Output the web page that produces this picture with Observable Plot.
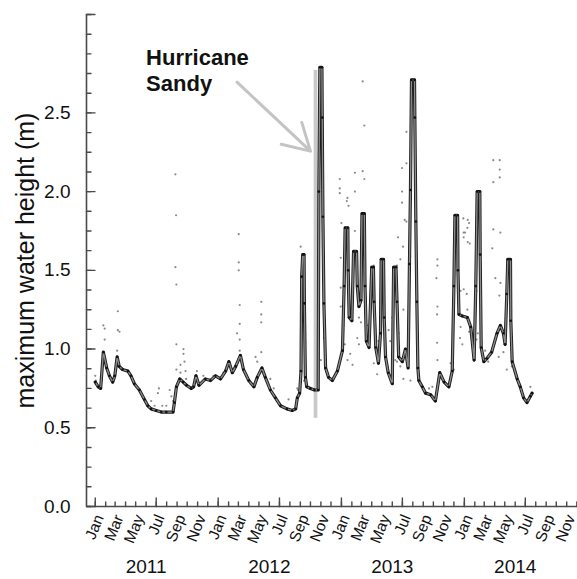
<!DOCTYPE html>
<html><head><meta charset="utf-8">
<script src="https://cdn.jsdelivr.net/npm/d3@7"></script>
<script src="https://cdn.jsdelivr.net/npm/@observablehq/plot@0.6"></script>
<style>body{margin:0;background:#fff} svg{display:block}</style>
</head><body><div id="chart"></div>
<script>
// ---- data ----
const lineDates = ["2011-01-01","2011-01-10","2011-01-17","2011-01-25","2011-02-04","2011-02-12","2011-02-22","2011-02-28","2011-03-07","2011-03-13","2011-03-23","2011-04-08","2011-04-17","2011-04-27","2011-05-12","2011-05-27","2011-06-06","2011-06-16","2011-07-01","2011-07-16","2011-07-31","2011-08-20","2011-08-24","2011-08-30","2011-09-09","2011-09-19","2011-09-29","2011-10-13","2011-10-20","2011-10-27","2011-11-05","2011-11-24","2011-12-09","2011-12-24","2012-01-08","2012-01-23","2012-02-02","2012-02-12","2012-02-22","2012-03-07","2012-03-16","2012-04-01","2012-04-16","2012-04-26","2012-05-10","2012-05-20","2012-06-04","2012-06-19","2012-07-04","2012-07-23","2012-08-08","2012-08-18","2012-08-23","2012-08-30","2012-09-03","2012-09-05","2012-09-08","2012-09-12","2012-09-13","2012-09-16","2012-09-20","2012-10-01","2012-10-13","2012-10-24","2012-10-26","2012-10-29","2012-11-04","2012-11-05","2012-11-07","2012-11-10","2012-11-15","2012-11-24","2012-12-05","2012-12-20","2013-01-04","2013-01-09","2013-01-12","2013-01-20","2013-01-21","2013-01-24","2013-02-01","2013-02-06","2013-02-15","2013-02-17","2013-02-22","2013-02-28","2013-03-03","2013-03-10","2013-03-12","2013-03-16","2013-03-24","2013-04-01","2013-04-06","2013-04-08","2013-04-13","2013-04-21","2013-04-27","2013-04-29","2013-05-06","2013-05-08","2013-05-12","2013-05-20","2013-06-01","2013-06-05","2013-06-12","2013-06-15","2013-06-20","2013-07-01","2013-07-10","2013-07-18","2013-07-22","2013-07-25","2013-07-28","2013-08-06","2013-08-07","2013-08-10","2013-08-13","2013-08-16","2013-08-19","2013-08-29","2013-09-08","2013-09-23","2013-10-07","2013-10-20","2013-11-02","2013-11-16","2013-11-26","2013-12-01","2013-12-04","2013-12-12","2013-12-13","2013-12-16","2013-12-26","2014-01-10","2014-01-20","2014-01-30","2014-02-04","2014-02-08","2014-02-16","2014-02-17","2014-02-20","2014-02-28","2014-03-09","2014-03-23","2014-04-08","2014-04-18","2014-04-27","2014-05-02","2014-05-07","2014-05-10","2014-05-18","2014-05-19","2014-05-23","2014-06-07","2014-06-16","2014-06-26","2014-07-06","2014-07-16","2014-07-21"];
const lineValues = [0.79,0.76,0.75,0.98,0.88,0.83,0.79,0.83,0.95,0.89,0.87,0.86,0.83,0.78,0.74,0.68,0.64,0.62,0.61,0.60,0.60,0.60,0.66,0.76,0.81,0.79,0.77,0.75,0.76,0.83,0.77,0.81,0.80,0.83,0.81,0.86,0.92,0.85,0.89,0.96,0.87,0.80,0.76,0.82,0.88,0.82,0.74,0.69,0.64,0.62,0.61,0.62,0.69,0.72,0.86,1.46,1.60,1.60,1.29,0.82,0.76,0.75,0.74,0.74,2.00,2.79,2.79,2.47,1.84,1.29,0.88,0.82,0.80,0.86,0.99,1.40,1.77,1.77,1.50,1.20,1.18,1.62,1.62,1.40,1.27,1.31,1.86,1.86,1.40,1.05,1.01,1.52,1.52,1.30,1.01,0.91,1.10,1.57,1.57,1.20,0.95,0.85,0.78,1.52,1.52,1.30,0.95,0.92,1.00,0.88,1.54,2.01,2.71,2.71,2.47,1.81,1.30,0.88,0.80,0.76,0.72,0.71,0.67,0.85,0.79,0.76,0.86,1.40,1.85,1.85,1.50,1.22,1.21,1.20,1.14,0.93,1.40,2.00,2.00,1.60,1.01,0.92,0.94,0.98,1.10,1.15,1.10,1.03,1.35,1.57,1.57,1.18,0.92,0.81,0.76,0.69,0.66,0.70,0.72];

const dotDates = ["2011-01-01","2011-01-03","2011-01-20","2011-01-25","2011-01-29","2011-01-29","2011-03-04","2011-03-09","2011-03-09","2011-03-14","2011-03-07","2011-04-22","2011-06-16","2011-06-26","2011-07-06","2011-07-09","2011-07-19","2011-07-31","2011-08-10","2011-08-15","2011-08-20","2011-08-27","2011-08-29","2011-08-27","2011-08-30","2011-08-30","2011-08-30","2011-09-11","2011-09-11","2011-09-20","2011-09-20","2011-09-23","2011-09-26","2011-09-28","2011-10-30","2011-11-18","2011-12-18","2012-01-02","2012-01-17","2012-02-26","2012-03-02","2012-03-02","2012-03-02","2012-03-05","2012-03-05","2012-03-05","2012-03-05","2012-04-21","2012-04-26","2012-05-08","2012-05-08","2012-05-08","2012-05-08","2012-05-10","2012-06-04","2012-06-14","2012-07-28","2012-08-23","2012-08-25","2012-09-02","2012-09-02","2012-09-12","2012-11-01","2012-11-10","2012-12-27","2012-12-27","2012-12-27","2013-01-01","2012-12-30","2012-12-30","2012-12-30","2013-01-11","2013-01-19","2013-01-17","2013-01-22","2013-01-19","2013-01-27","2013-02-03","2013-02-10","2013-02-10","2013-02-10","2013-02-17","2013-02-22","2013-02-22","2013-02-28","2013-03-05","2013-03-10","2013-03-05","2013-03-10","2013-04-07","2013-04-07","2013-04-17","2013-05-01","2013-05-01","2013-05-21","2013-05-26","2013-05-26","2013-06-10","2013-06-15","2013-06-15","2013-06-18","2013-06-20","2013-06-25","2013-06-30","2013-06-30","2013-06-30","2013-07-03","2013-07-04","2013-07-04","2013-07-08","2013-07-13","2013-07-13","2013-07-13","2013-07-19","2013-07-25","2013-09-18","2013-09-28","2013-10-10","2013-10-13","2013-10-13","2013-10-13","2013-10-12","2013-10-12","2013-10-13","2013-11-07","2013-11-21","2013-12-01","2013-12-09","2013-12-13","2013-12-19","2013-12-21","2013-12-21","2013-12-26","2013-12-29","2013-12-30","2013-12-30","2013-12-30","2014-01-03","2014-01-10","2014-01-08","2014-01-10","2014-01-11","2014-01-11","2014-01-15","2014-01-15","2014-01-17","2014-02-06","2014-02-06","2014-02-10","2014-03-04","2014-03-13","2014-03-25","2014-03-28","2014-03-28","2014-03-28","2014-03-28","2014-04-03","2014-04-13","2014-04-16","2014-04-16","2014-04-16","2014-04-15","2014-04-18","2014-04-18","2014-04-27","2014-05-07","2014-05-22","2014-06-01","2014-07-16","2013-06-25","2013-02-04","2013-03-18","2013-03-27","2013-04-21","2013-05-11","2013-06-01"];
const dotValues = [0.83,0.80,0.80,1.15,1.13,1.06,0.92,1.24,1.12,1.11,0.99,0.81,0.67,0.64,0.72,0.75,0.64,0.64,0.74,0.70,0.67,2.11,1.85,1.52,1.41,1.03,0.87,0.90,0.85,1.00,0.97,0.92,0.86,0.81,0.86,0.83,0.83,0.82,0.85,1.10,1.73,1.55,1.50,1.28,1.16,1.06,0.99,0.95,0.92,1.30,1.22,1.17,0.98,0.86,0.81,0.75,0.68,0.75,0.74,1.65,0.86,0.80,0.93,1.07,2.08,2.02,1.99,1.80,1.58,1.39,1.27,1.03,1.96,1.94,1.91,0.93,0.97,0.90,2.12,2.00,1.75,1.07,1.20,1.03,1.17,2.70,2.42,2.13,2.08,1.53,0.91,0.84,1.56,1.29,1.12,1.05,0.81,0.93,0.92,1.53,1.71,1.10,1.57,2.15,2.00,1.93,1.65,1.25,0.81,1.82,2.38,2.18,1.81,0.92,0.80,0.75,0.76,1.45,1.57,1.53,1.27,1.22,1.04,0.93,0.78,0.91,0.87,1.84,1.39,1.07,1.37,1.14,1.03,1.83,1.74,1.71,1.38,1.74,1.77,1.35,1.25,1.82,1.68,1.80,1.11,1.67,1.37,1.06,1.10,0.99,0.92,1.64,2.20,2.06,1.76,1.02,1.45,0.95,2.20,2.14,2.09,1.34,1.74,1.42,0.98,0.87,0.89,0.86,0.76,0.89,1.30,1.15,1.25,1.05,1.10,1.20];

const monthNames = ["Jan","Mar","May","Jul","Sep","Nov"];
const years = [2011, 2012, 2013, 2014];
const yTickLabels = [0, 0.5, 1.0, 1.5, 2.0, 2.5];
const xDomain = ["2010-12-06", "2014-12-03"];
const yDomain = [0, 3.125];
const sandyBarDates = ["2012-10-12", "2012-10-23"];
const sandyBarValues = [0.56, 2.77];
const annotationLines = ["Hurricane", "Sandy"];
const annotationValues = [2.846, 2.687];
const annotationDate = "2011-06-01";
const arrowDates = ["2012-02-26", "2012-10-01"];
const arrowValues = [2.695, 2.257];
const yAxisTitle = "maximum water height (m)";

// ---- build tables ----
const P = (s) => new Date(s + "T00:00:00Z");
const line = lineDates.map((d, i) => ({date: P(d), value: lineValues[i]}));
const dots = dotDates.map((d, i) => ({date: P(d), value: dotValues[i]}));
const months = d3.utcMonth.range(P("2011-01-01"), P("2015-01-01"));
const halfYears = months.filter(d => d.getUTCMonth() % 6 === 0);
const yMinor = d3.range(0, 3.1251, 0.125);
const yMajor = [0, 0.5, 1, 1.5, 2, 2.5, 3.125];
const monthLabels = years.flatMap(y => monthNames.map((m, i) => ({date: new Date(Date.UTC(y, i * 2, 1)), label: m})));
const x0 = P(xDomain[0]);
const axisColor = "#4a4a4a";

const tickUp = {draw(ctx, l) { ctx.moveTo(0, 0); ctx.lineTo(0, -l); }};

const plot = Plot.plot({
  width: 577, height: 579,
  marginLeft: 86, marginRight: 0, marginTop: 14, marginBottom: 73,
  x: {type: "utc", domain: xDomain.map(P), axis: null},
  y: {domain: yDomain, axis: null},
  style: {fontFamily: "'Liberation Sans', Arial, sans-serif", color: "#111", background: "#fff", overflow: "visible"},
  marks: [
    Plot.rect([0], {x1: () => P(sandyBarDates[0]), x2: () => P(sandyBarDates[1]), y1: () => sandyBarValues[0], y2: () => sandyBarValues[1], fill: "#c9c9c9"}),
    Plot.arrow([0], {x1: () => P(arrowDates[0]), y1: () => arrowValues[0], x2: () => P(arrowDates[1]), y2: () => arrowValues[1], stroke: "#c4c4c4", strokeWidth: 3, headLength: 15}),
    Plot.dot(dots, {x: "date", y: "value", r: 1.1, fill: "#8a8a8a"}),
    Plot.line(line, {x: "date", y: "value", stroke: "#1e1e1e", strokeWidth: 3.2}),
    Plot.line(line, {x: "date", y: "value", stroke: "#8c8c8c", strokeWidth: 1.3}),
    Plot.dot(line, {x: "date", y: "value", r: 1.3, fill: "#111"}),
    // axes
    Plot.ruleY([0], {stroke: axisColor, strokeWidth: 1.6}),
    Plot.ruleX([x0], {y1: 0, y2: yDomain[1], stroke: axisColor, strokeWidth: 1.6}),
    Plot.vector(months, {x: d => d, y: 0, length: 4.5, rotate: 0, anchor: "start", shape: tickUp, stroke: axisColor, strokeWidth: 1.4}),
    Plot.vector(halfYears, {x: d => d, y: 0, length: 8.5, rotate: 0, anchor: "start", shape: tickUp, stroke: axisColor, strokeWidth: 1.4}),
    Plot.vector(yMinor, {x: x0, y: d => d, length: 4.5, rotate: 90, anchor: "start", shape: tickUp, stroke: axisColor, strokeWidth: 1.4}),
    Plot.vector(yMajor, {x: x0, y: d => d, length: 8.5, rotate: 90, anchor: "start", shape: tickUp, stroke: axisColor, strokeWidth: 1.4}),
    Plot.text(yTickLabels, {x: x0, y: d => d, text: d => d.toFixed(1), textAnchor: "end", dx: -16, fontSize: 19, fill: "#111"}),
    Plot.text(monthLabels, {x: "date", y: 0, text: "label", rotate: -68, textAnchor: "end", dx: 4, dy: 9, fontSize: 15.5, fill: "#111"}),
    Plot.text(years, {x: y => new Date(Date.UTC(y, 5, 1)), y: 0, text: d => String(d), dy: 60, fontSize: 19, fill: "#111"}),
    Plot.text([yAxisTitle], {frameAnchor: "left", textAnchor: "middle", dx: -61, rotate: -90, fontSize: 25, fill: "#111"}),
    Plot.text(annotationLines, {x: () => P(annotationDate), y: (d, i) => annotationValues[i], text: d => d, textAnchor: "start", fontWeight: "bold", fontSize: 22, fill: "#111"})
  ]
});
document.getElementById("chart").appendChild(plot);
</script>
</body></html>
